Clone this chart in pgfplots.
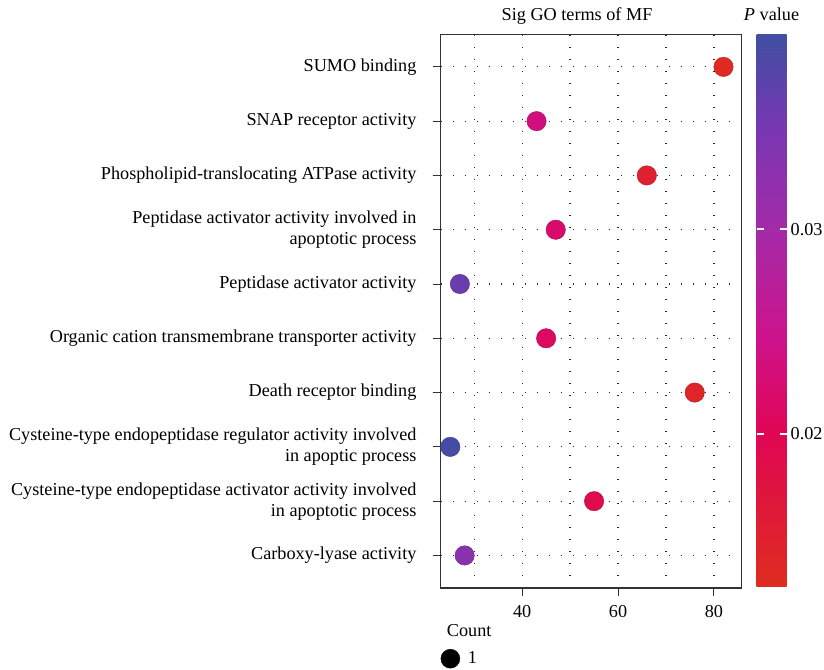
\documentclass[border=0pt]{standalone}
\usepackage{fontspec}
\setmainfont{Liberation Serif}
\usepackage{pgfplots}
\usepackage{pgfplotstable}
\pgfplotsset{compat=1.18}

\pgfplotstableread{
cat count p
1 28 0.033
2 55 0.019
3 25 0.039
4 76 0.014
5 45 0.021
6 27 0.036
7 47 0.022
8 66 0.015
9 43 0.0235
10 82 0.013
}\godata

\definecolor{pvA}{RGB}{222,45,30}
\definecolor{pvB}{RGB}{224,6,84}
\definecolor{pvC}{RGB}{206,18,138}
\definecolor{pvD}{RGB}{164,42,168}
\definecolor{pvE}{RGB}{120,55,178}
\definecolor{pvF}{RGB}{63,79,162}
\pgfdeclareverticalshading{pvshade}{100bp}{color(0bp)=(pvA); color(25bp)=(pvA); color(38.89bp)=(pvB); color(47.22bp)=(pvC); color(57.41bp)=(pvD); color(66.67bp)=(pvE); color(75bp)=(pvF); color(100bp)=(pvF)}

\pgfplotsset{
  colormap={pv}{rgb255(0cm)=(222,45,30) rgb255(15cm)=(224,6,84) rgb255(24cm)=(206,18,138) rgb255(35cm)=(164,42,168) rgb255(45cm)=(120,55,178) rgb255(54cm)=(63,79,162)},
}

\begin{document}
\fontsize{18.2}{21}\selectfont
\begin{tikzpicture}[font=\fontsize{18.2}{21}\selectfont]
\useasboundingbox (-440.7pt,-81pt) rectangle (383.3pt,588pt);
\begin{axis}[
  name=main,
  at={(0pt,0pt)}, anchor=south west,
  scale only axis, width=301pt, height=553.7pt,
  xmin=23, xmax=85.8, ymin=0.4, ymax=10.6,
  xtick={40,60,80}, minor xtick={30,50,70},
  ytick={1,...,10},
  yticklabels={Carboxy-lyase activity,
    {Cysteine-type endopeptidase activator activity involved\\in apoptotic process},
    {Cysteine-type endopeptidase regulator activity involved\\in apoptic process},
    Death receptor binding,
    Organic cation transmembrane transporter activity,
    Peptidase activator activity,
    {Peptidase activator activity involved in\\apoptotic process},
    Phospholipid-translocating ATPase activity,
    SNAP receptor activity,
    SUMO binding},
  yticklabel style={align=right, xshift=-10pt},
  xticklabel style={yshift=-3pt},
  tick align=outside, tick pos=left,
  major tick length=8pt, minor tick length=0pt,
  every tick/.style={black!80, line width=1pt},
  grid=both,
  grid style={black!85, line width=1.25pt, dash pattern=on 1.25pt off 10.75pt},
  axis line style={black!80, line width=1.1pt},
  title={Sig GO terms of MF},
  title style={at={(0.453,1)}, anchor=base, yshift=7.5pt},
  /pgf/number format/assume math mode=true,
  colormap name=pv,
  point meta min=0.0125, point meta max=0.0395,
  colorbar,
  colorbar style={
    scale only axis, width=30pt, height=552pt,
    xmin=0, xmax=1, enlargelimits=false,
    at={(parent axis.north east)}, anchor=north west, xshift=6.3pt, yshift=-0.7pt,
    ytick={0.02,0.03},
    scaled y ticks=false,
    yticklabel style={/pgf/number format/fixed, /pgf/number format/precision=2, /pgf/number format/fixed zerofill, /pgf/number format/assume math mode=true, inner xsep=4pt},
    yticklabel pos=right,
    major tick length=0pt,
    axis line style={draw=none},
    title={\textit{P} value}, title style={at={(0.5,1)}, anchor=base, yshift=8pt},
    after end axis/.code={
      \shade[shading=pvshade] (rel axis cs:0,0) rectangle (rel axis cs:1,1);
      \draw[white, line width=1.8pt] (rel axis cs:0,0.2778) -- ++(7pt,0pt);
      \draw[white, line width=1.8pt] (rel axis cs:1,0.2778) -- ++(-7pt,0pt);
      \draw[white, line width=1.8pt] (rel axis cs:0,0.6481) -- ++(7pt,0pt);
      \draw[white, line width=1.8pt] (rel axis cs:1,0.6481) -- ++(-7pt,0pt);
    },
  },
  legend style={draw=none, fill=none, at={(0,0)}, anchor=north west, yshift=-61pt, inner sep=0pt, legend cell align=left,
    /tikz/every odd column/.append style={column sep=6pt}},
  legend image code/.code={\draw[mark repeat=2, mark phase=2, #1] plot coordinates {(0pt,0pt) (9.5pt,0pt) (19pt,0pt)};},
]
\addlegendimage{only marks, mark=*, mark size=9.5pt, black}
\addlegendentry{1}
\addplot[scatter, only marks, mark=*, mark size=9.7pt, scatter src=explicit, forget plot] table[x=count, y=cat, meta=p] {\godata};
\end{axis}
\node[anchor=base west] at ([yshift=-48pt]main.south west) {Count};
\end{tikzpicture}
\end{document}
